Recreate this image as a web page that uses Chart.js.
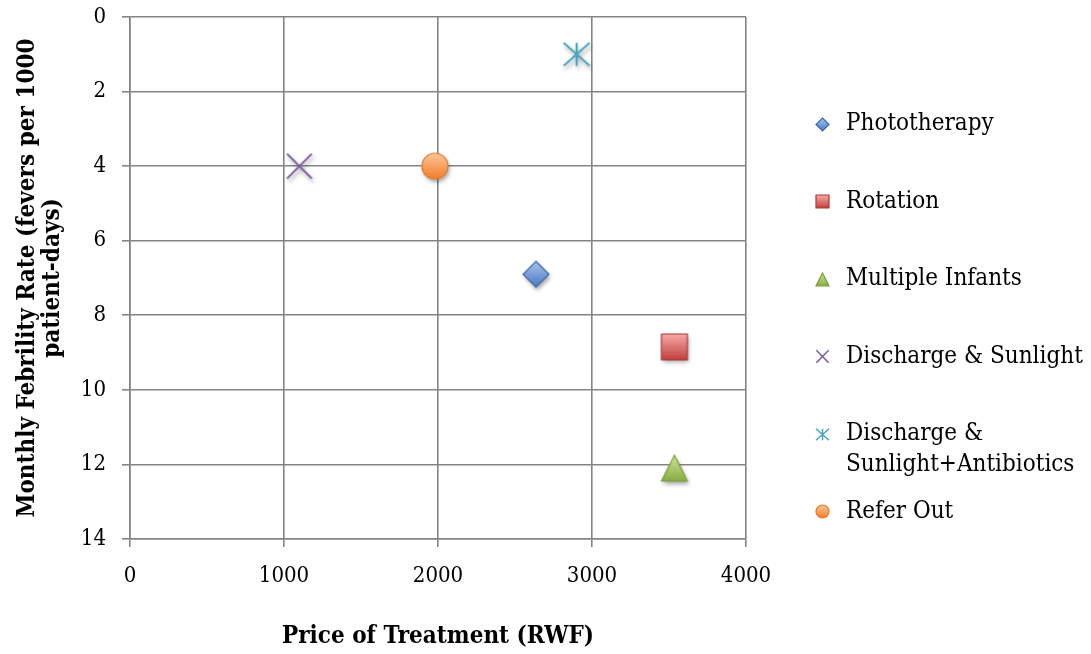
<!DOCTYPE html>
<html>
<head>
<meta charset="utf-8">
<script src="https://cdn.jsdelivr.net/npm/chart.js@4.4.1/dist/chart.umd.min.js"></script>
<style>
  html, body { margin: 0; padding: 0; background: #ffffff; }
  #wrap { width: 1091px; height: 654px; position: relative; }
</style>
</head>
<body>
<div id="wrap"><canvas id="chart" width="1091" height="654"></canvas></div>
<script>
// Treatment options: price (RWF) vs. monthly febrility rate
const treatments = ['Phototherapy', 'Rotation', 'Multiple Infants', 'Discharge & Sunlight', 'Discharge & Sunlight+Antibiotics', 'Refer Out'];
const legendLines = [['Phototherapy'], ['Rotation'], ['Multiple Infants'], ['Discharge & Sunlight'], ['Discharge &', 'Sunlight+Antibiotics'], ['Refer Out']];
const priceRWF = [2636, 3535, 3535, 1100, 2900, 1980];
const febrilityRate = [6.9, 8.85, 12.1, 4.0, 1.0, 4.0];
const markerKinds = ['diamond', 'square', 'triangle', 'cross', 'asterisk', 'circle'];
const xTickValues = [0, 1000, 2000, 3000, 4000];
const yTickValues = [0, 2, 4, 6, 8, 10, 12, 14];

const FONT = "'DejaVu Serif Condensed', 'DejaVu Serif', serif";
const GRID = '#848484';

// Fill/stroke colours for each marker kind
const palette = {
  diamond:  { top: '#a9c4ee', bottom: '#4a7bc0', stroke: '#3d68a8' },
  square:   { top: '#f7aaa8', bottom: '#c0403d', stroke: '#a83a37' },
  triangle: { top: '#cfe39e', bottom: '#88ad42', stroke: '#7a9c3a' },
  circle:   { top: '#fdc79a', bottom: '#ef7d2a', stroke: '#e07a30' },
  cross:    { stroke: '#7a5a9e' },
  asterisk: { stroke: '#4aa3bd' }
};

// Builds a marker sprite used as a Chart.js image pointStyle
function makeMarker(kind, size, withShadow) {
  const pad = Math.ceil(size * 0.6);
  const dim = size + pad * 2;
  const cv = document.createElement('canvas');
  cv.width = dim; cv.height = dim;
  const ctx = cv.getContext('2d');
  const c = dim / 2, r = size / 2;
  const col = palette[kind];
  if (withShadow) {
    ctx.shadowColor = 'rgba(0,0,0,0.35)';
    ctx.shadowBlur = size * 0.18;
    ctx.shadowOffsetX = size * 0.06;
    ctx.shadowOffsetY = size * 0.12;
  }
  ctx.lineJoin = 'miter';
  if (kind === 'cross' || kind === 'asterisk') {
    ctx.strokeStyle = col.stroke;
    ctx.lineWidth = size > 16 ? 2 : 1.5;
    ctx.beginPath();
    if (kind === 'cross') {
      const k = r * 0.95;
      ctx.moveTo(c - k, c - k); ctx.lineTo(c + k, c + k);
      ctx.moveTo(c + k, c - k); ctx.lineTo(c - k, c + k);
    } else {
      const hy = r * 0.88;
      ctx.moveTo(c - r, c - hy); ctx.lineTo(c + r, c + hy);
      ctx.moveTo(c + r, c - hy); ctx.lineTo(c - r, c + hy);
      ctx.moveTo(c, c - hy); ctx.lineTo(c, c + hy);
    }
    ctx.stroke();
    return cv;
  }
  const g = ctx.createLinearGradient(0, c - r, 0, c + r);
  g.addColorStop(0, col.top);
  g.addColorStop(1, col.bottom);
  ctx.beginPath();
  if (kind === 'diamond') {
    ctx.moveTo(c, c - r); ctx.lineTo(c + r, c); ctx.lineTo(c, c + r); ctx.lineTo(c - r, c); ctx.closePath();
  } else if (kind === 'square') {
    ctx.rect(c - r, c - r, size, size);
  } else if (kind === 'triangle') {
    ctx.moveTo(c, c - r); ctx.lineTo(c + r, c + r); ctx.lineTo(c - r, c + r); ctx.closePath();
  } else {
    ctx.arc(c, c, r, 0, Math.PI * 2);
  }
  ctx.fillStyle = g;
  ctx.fill();
  ctx.shadowColor = 'transparent';
  ctx.strokeStyle = col.stroke;
  ctx.lineWidth = 1.2;
  ctx.stroke();
  return cv;
}

const datasets = treatments.map((name, i) => ({
  label: name,
  data: [{ x: priceRWF[i], y: febrilityRate[i] }],
  pointStyle: makeMarker(markerKinds[i], 26, true),
  pointRadius: 13,
  showLine: false
}));

// Legend drawn to the right of the plot, one row per treatment
const sideLegend = {
  id: 'sideLegend',
  afterDraw(chart) {
    const { ctx, chartArea } = chart;
    const markerX = chartArea.right + 76;
    const textX = chartArea.right + 100;
    const firstY = chartArea.top + 107;
    const step = 77.5;
    const lineGap = 31;
    ctx.save();
    ctx.font = `24px ${FONT}`;
    ctx.fillStyle = '#000';
    ctx.textBaseline = 'middle';
    ctx.textAlign = 'left';
    legendLines.forEach((lines, i) => {
      const y = firstY + i * step;
      const m = makeMarker(markerKinds[i], 13, false);
      ctx.drawImage(m, Math.round(markerX - m.width / 2), Math.round(y - m.height / 2));
      lines.forEach((t, j) => ctx.fillText(t, textX, y + j * lineGap));
    });
    ctx.restore();
  }
};

new Chart(document.getElementById('chart'), {
  type: 'scatter',
  data: { datasets },
  options: {
    responsive: false,
    animation: false,
    events: [],
    layout: { padding: { top: 17, right: 345, left: 0, bottom: 0 } },
    plugins: { legend: { display: false }, tooltip: { enabled: false } },
    scales: {
      x: {
        type: 'linear',
        min: xTickValues[0],
        max: xTickValues[xTickValues.length - 1],
        afterBuildTicks(scale) { scale.ticks = xTickValues.map(v => ({ value: v })); },
        afterFit(scale) { scale.height = 115; scale.paddingLeft = 0; scale.paddingRight = 0; },
        ticks: { color: '#000', font: { family: FONT, size: 22 }, padding: 16, maxRotation: 0, callback: v => String(v) },
        grid: { color: GRID, lineWidth: 1.6, tickLength: 8, tickColor: GRID },
        border: { color: GRID, width: 1.6 },
        title: {
          display: true,
          text: 'Price of Treatment (RWF)',
          color: '#000',
          font: { family: FONT, size: 24, weight: 'bold', lineHeight: 1.2 },
          padding: { top: 0, bottom: 3 }
        }
      },
      y: {
        type: 'linear',
        reverse: true,
        min: yTickValues[0],
        max: yTickValues[yTickValues.length - 1],
        afterBuildTicks(scale) { scale.ticks = yTickValues.map(v => ({ value: v })); },
        afterFit(scale) { scale.width = 130; scale.paddingTop = 0; scale.paddingBottom = 0; },
        ticks: { color: '#000', font: { family: FONT, size: 22 }, padding: 16, callback: v => String(v) },
        grid: { color: GRID, lineWidth: 1.6, tickLength: 8, tickColor: GRID },
        border: { color: GRID, width: 1.6 },
        title: {
          display: true,
          text: ['Monthly Febrility Rate (fevers per 1000', 'patient-days)'],
          color: '#000',
          font: { family: FONT, size: 24, weight: 'bold', lineHeight: 1.05 },
          padding: { top: 15, bottom: 0 }
        }
      }
    }
  },
  plugins: [sideLegend]
});
</script>
</body>
</html>
